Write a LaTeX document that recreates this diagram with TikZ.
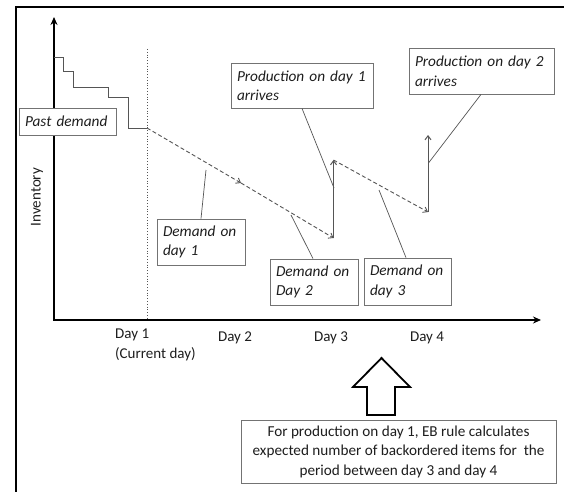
\documentclass[tikz,border=0pt]{standalone}
\usepackage{fontspec}
\setmainfont{Carlito}
\usetikzlibrary{arrows.meta}
\definecolor{linegray}{RGB}{85,85,85}
\definecolor{boxgray}{RGB}{115,115,115}
\definecolor{txt}{RGB}{30,30,30}
\begin{document}
\begin{tikzpicture}[x=1pt,y=-1pt,
  frame/.style={line width=2.5pt,black},
  axis/.style={line width=1.6pt,black,-{Stealth[length=8pt,width=7pt]}},
  chart/.style={line width=1pt,linegray},
  dline/.style={line width=0.9pt,linegray,dashed,dash pattern=on 4pt off 2.5pt,-{Straight Barb[length=4pt,width=6pt]}},
  upline/.style={line width=1pt,linegray,-{Straight Barb[length=4pt,width=6pt]}},
  leader/.style={line width=0.7pt,linegray},
  lbl/.style={draw=boxgray,line width=0.8pt,fill=white,text=txt,font=\fontsize{15.3}{19.5}\selectfont\itshape,align=left,inner xsep=6pt,inner ysep=0pt},
  daylbl/.style={text=txt,font=\fontsize{15}{19.5}\selectfont,align=left,inner sep=0pt},
  ebbox/.style={draw=boxgray,line width=0.9pt,fill=white,text=txt,font=\fontsize{15.2}{19.5}\selectfont,align=center,inner sep=0pt,minimum width=315pt,minimum height=63pt},
  bigarrow/.style={line width=1.8pt,black,fill=white,line join=miter}
]
\useasboundingbox (0,0) rectangle (564,492);
\fill[white] (0,0) rectangle (564,492);
% frame
\coordinate (fa) at (564,7);
\coordinate (fb) at (16,7);
\coordinate (fc) at (16,492);
\draw[frame] (fa) -- (fb) -- (fc);
% axes
\coordinate (origin) at (54,320);
\coordinate (ytop) at (54,17);
\coordinate (xstart) at (53,320);
\coordinate (xend) at (541,320);
\draw[axis] (origin) -- (ytop);
\draw[axis] (xstart) -- (xend);
% current day dotted
\coordinate (dottop) at (147,49);
\coordinate (dotbot) at (147,320);
\draw[linegray,line width=0.8pt,dotted] (dottop) -- (dotbot);
% past demand steps
\draw[chart] (54,58) -- (63,58) -- (63,72) -- (73,72) -- (73,88) -- (108,88) -- (108,98) -- (128,98) -- (128,128) -- (147,128);
% inventory path
\coordinate (s0) at (147,128);
\coordinate (m1) at (241,183);
\coordinate (b1) at (333.5,238);
\coordinate (t1) at (333.5,160);
\coordinate (b2) at (428,212);
\coordinate (t2) at (428,135);
\draw[dline] (s0) -- (m1);
\draw[dline] (m1) -- (b1);
\draw[upline] (b1) -- (t1);
\draw[dline] (t1) -- (b2);
\draw[upline] (b2) -- (t2);
% labels
\node[lbl,text width=85pt,minimum height=27pt] (past) at (67.5,121.5) {Past demand};
\node[lbl,text width=130pt,minimum height=45pt] (prod1) at (302,85.5) {Production on day 1\\arrives};
\node[lbl,text width=133pt,minimum height=46pt] (prod2) at (481.5,71) {Production on day 2\\arrives};
\node[lbl,text width=76pt,minimum height=46pt] (dem1) at (201,242) {Demand on\\day 1};
\node[lbl,text width=76pt,minimum height=46pt] (dem2) at (314,282) {Demand on\\Day 2};
\node[lbl,text width=75pt,minimum height=47pt] (dem3) at (407.5,281.5) {Demand on\\day 3};
% leaders
\coordinate (l1) at (206,170);
\coordinate (l2) at (291,215);
\coordinate (l3) at (379,190);
\coordinate (lp1) at (334,188);
\coordinate (lp2) at (428.5,163);
\draw[leader] (l1) -- (dem1.north -| 201,0);
\draw[leader] (l2) -- (dem2.north -| 313,0);
\draw[leader] (l3) -- (dem3.north -| 406,0);
\draw[leader] (prod1.south -| 302,0) -- (lp1);
\draw[leader] (prod2.south -| 481,0) -- (lp2);
% axis labels
\node[text=txt,font=\fontsize{15}{19}\selectfont,rotate=90] (inv) at (37,197) {Inventory};
\node[daylbl,anchor=north west] (day1) at (115,329) {Day 1\\(Current day)};
\node[daylbl] (day2) at (235,338) {Day 2};
\node[daylbl] (day3) at (331,338) {Day 3};
\node[daylbl] (day4) at (427,338) {Day 4};
% big arrow
\draw[bigarrow] (367,415) -- (367,387) -- (353,387) -- (381.5,358) -- (410,387) -- (395,387) -- (395,415) -- cycle;
\node[ebbox] (eb) at (398.5,451.5) {For production on day 1, EB rule calculates\\expected number of backordered items for\ \ the\\period between day 3 and day 4};
\end{tikzpicture}
\end{document}
